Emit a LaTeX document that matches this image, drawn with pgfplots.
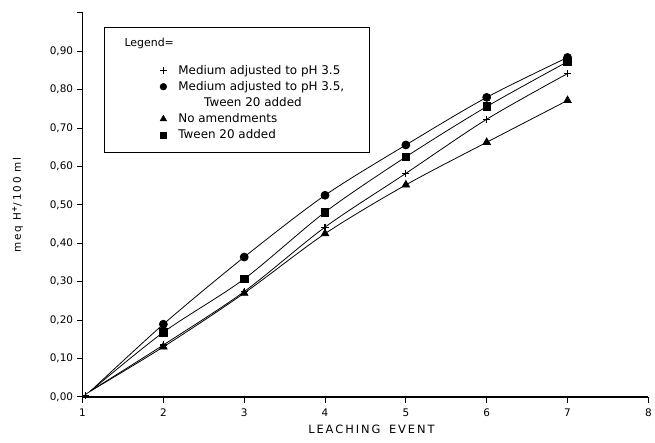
\documentclass[border=0pt]{standalone}
\usepackage{pgfplots}
\pgfplotsset{compat=1.18}
\usepackage{fontspec}
\setmainfont{DejaVu Sans}
\begin{document}
\begin{tikzpicture}
\begin{axis}[
  scale only axis,
  width=569pt, height=386pt,
  xmin=1, xmax=8, ymin=0, ymax=1.0,
  axis x line*=bottom, axis y line*=left,
  axis line style={line width=1.5pt},
  xtick={1,...,8},
  ytick={0,0.1,...,0.91},
  extra y ticks={1.0}, extra y tick labels={},
  tick style={line width=1pt, black},
  tick align=outside,
  major tick length=6pt,
  /pgf/number format/assume math mode=true,
  yticklabel style={/pgf/number format/.cd, fixed, fixed zerofill, precision=2, use comma},
  ticklabel style={font=\fontsize{10.5}{12}\selectfont},
  xticklabel style={yshift=-3pt},
  xlabel={L\,E\,A\,C\,H\,I\,N\,G\;\, E\,V\,E\,N\,T},
  xlabel style={font=\fontsize{11.5}{12}\selectfont, yshift=-1pt, xshift=6pt},
  ylabel={m\,e\,q\, H\textsuperscript{\textbf{+}}/\,1\,0\,0\, m\,l},
  ylabel style={font=\fontsize{10.5}{12}\selectfont, yshift=8pt},
  clip=false,
  legend style={at={(rel axis cs:0.135,0.868)}, anchor=north west, draw=none, fill=none,
    font=\fontsize{12}{14}\selectfont, row sep=2.6pt, inner sep=0pt,
    nodes={inner sep=1.5pt}},
  legend cell align=left,
  legend image code/.code={\draw[#1] plot coordinates {(0.15cm,0cm)};},
]
\addplot[black, line width=0.8pt, smooth, mark=+, mark size=3.6pt, mark options={line width=1.1pt}, mark indices={1,3,4,5,6,7,8}, forget plot]
 coordinates {(1.04,0.004) (1.1,0.015) (2,0.135) (3,0.274) (4,0.442) (5,0.582) (6,0.723) (7,0.842)};
\addplot[black, line width=0.8pt, smooth, mark=*, mark size=4pt, mark indices={2,...,7}, forget plot]
 coordinates {(1.1,0.015) (2,0.189) (3,0.364) (4,0.525) (5,0.656) (6,0.78) (7,0.884)};
\addplot[black, line width=0.8pt, smooth, mark=triangle*, mark size=4.3pt, mark indices={2,...,7}, forget plot]
 coordinates {(1.1,0.015) (2,0.13) (3,0.27) (4,0.425) (5,0.552) (6,0.663) (7,0.772)};
\addplot[black, line width=0.8pt, smooth, mark=square*, mark size=3.8pt, mark indices={2,...,7}, forget plot]
 coordinates {(1.1,0.015) (2,0.168) (3,0.307) (4,0.481) (5,0.625) (6,0.756) (7,0.873)};
\addlegendimage{black, mark=+, mark size=3.6pt, mark options={line width=1.1pt}}
\addlegendentry{\hspace*{10pt}Medium adjusted to pH 3.5}
\addlegendimage{black, mark=*, mark size=3.4pt}
\addlegendentry{\hspace*{10pt}Medium adjusted to pH 3.5,}
\addlegendimage{empty legend}
\addlegendentry{\hspace*{3em}Tween 20 added}
\addlegendimage{black, mark=triangle*, mark size=3.8pt}
\addlegendentry{\hspace*{10pt}No amendments}
\addlegendimage{black, mark=square*, mark size=3.2pt}
\addlegendentry{\hspace*{10pt}Tween 20 added}
\draw[line width=1pt] (rel axis cs:0.0387,0.961) rectangle (rel axis cs:0.508,0.637);
\node[anchor=west, font=\fontsize{11}{12}\selectfont] at (rel axis cs:0.068,0.921) {Legend=};
\end{axis}
\path (current axis.south west) ++(-83pt,-46pt) rectangle ++(655pt,445pt);
\end{tikzpicture}
\end{document}
